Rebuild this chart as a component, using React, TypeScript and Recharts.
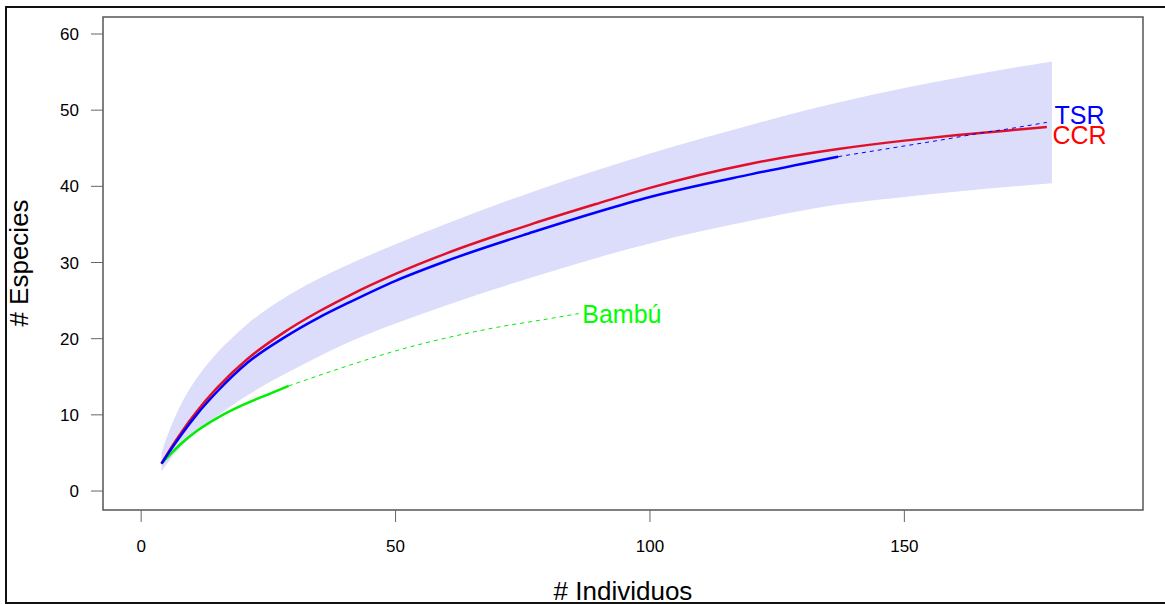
import React from "react"
import {
  ComposedChart,
  Line,
  Area,
  XAxis,
  YAxis,
  ReferenceArea,
  ReferenceDot,
} from "recharts"

// rarefaction curves
const bandX = [4, 5, 6, 8, 10, 12, 15, 18, 21, 25, 30, 35, 40, 50, 60, 77, 90, 100, 120, 137, 150, 160, 170, 179]
const bandLow = [2.6, 3.5, 4.4, 5.9, 7.2, 8.3, 9.9, 11.3, 12.6, 14.2, 16.0, 17.7, 19.3, 22.0, 24.4, 28.1, 30.7, 32.5, 35.5, 37.6, 38.6, 39.3, 39.9, 40.4]
const bandHigh = [5.0, 7.0, 8.7, 11.6, 13.9, 15.8, 18.2, 20.2, 22.0, 24.0, 26.1, 27.9, 29.5, 32.4, 35.1, 39.3, 42.2, 44.3, 48.1, 51.0, 52.9, 54.2, 55.4, 56.4]

const ccrX = [4, 6, 8, 11, 15, 21, 28, 35, 41, 50, 60, 77, 90, 100, 120, 137, 150, 160, 170, 178]
const ccrY = [3.6, 5.8, 7.8, 10.5, 13.6, 17.4, 20.8, 23.6, 25.7, 28.5, 31.2, 35.1, 37.8, 39.8, 43.0, 44.9, 46.0, 46.7, 47.3, 47.8]

const tsrX = [4, 6, 8, 11, 15, 21, 28, 35, 41, 50, 60, 77, 90, 100, 120, 137]
const tsrY = [3.6, 5.6, 7.5, 10.1, 13.1, 16.9, 20.1, 22.8, 24.8, 27.6, 30.2, 34.0, 36.7, 38.6, 41.6, 43.9]
const tsrExtX = [137, 150, 160, 165, 170, 178]
const tsrExtY = [43.9, 45.3, 46.4, 47.0, 47.5, 48.4]

const bambuX = [4, 6, 8, 11, 15, 20, 25, 29]
const bambuY = [3.6, 5.0, 6.3, 7.9, 9.6, 11.3, 12.7, 13.8]
const bambuExtX = [29, 40, 50, 60, 70, 80, 86]
const bambuExtY = [13.8, 16.3, 18.4, 20.1, 21.5, 22.6, 23.3]

const xTicks = [0, 50, 100, 150]
const yTicks = [0, 10, 20, 30, 40, 50, 60]
const xDomain = [-7.5, 196.9]
const yDomain = [-2.49, 62.23]

const curveLabels = [
  { text: "TSR", x: 179.5, y: 49.3, color: "#0000ff" },
  { text: "CCR", x: 179.1, y: 46.8, color: "#ff0000" },
  { text: "Bambú", x: 86.7, y: 23.3, color: "#00ff00" },
]

const pts = (xs: number[], ys: number[]) => xs.map((x, i) => ({ x, y: ys[i] }))
const bandData = bandX.map((x, i) => ({ x, band: [bandLow[i], bandHigh[i]] }))

const FONT = "'Liberation Sans', Arial, sans-serif"

export default function App() {
  return (
    <div style={{ position: "absolute", left: 0, top: 0, width: 1165, height: 604, background: "#fff", overflow: "hidden" }}>
      <ComposedChart width={1165} height={604} margin={{ top: 17, right: 22, left: 43, bottom: 54 }}>
        <XAxis
          dataKey="x"
          type="number"
          domain={xDomain}
          ticks={xTicks}
          allowDataOverflow
          height={40}
          axisLine={false}
          tickSize={12}
          tickMargin={18}
          tickLine={{ stroke: "#666" }}
          tick={{ fontSize: 17, fill: "#000", fontFamily: FONT }}
          label={{
            content: ({ viewBox }: any) => (
              <text x={viewBox.x + viewBox.width / 2} y={600} textAnchor="middle" fontSize={26} fontFamily={FONT} fill="#000">
                # Individuos
              </text>
            ),
          }}
        />
        <YAxis
          type="number"
          domain={yDomain}
          ticks={yTicks}
          allowDataOverflow
          width={60}
          axisLine={false}
          tickSize={12}
          tickMargin={12}
          tickLine={{ stroke: "#666" }}
          tick={{ fontSize: 17, fill: "#000", fontFamily: FONT }}
          label={{
            content: () => (
              <text x={28} y={263} transform="rotate(-90, 28, 263)" textAnchor="middle" fontSize={26} fontFamily={FONT} fill="#000">
                # Especies
              </text>
            ),
          }}
        />
        <Area
          data={bandData}
          dataKey="band"
          type="monotone"
          stroke="none"
          fill="#dcdcfb"
          fillOpacity={1}
          isAnimationActive={false}
        />
        <Line data={pts(bambuExtX, bambuExtY)} dataKey="y" type="monotone" stroke="#00ee00" strokeWidth={1} strokeDasharray="4 4" dot={false} isAnimationActive={false} />
        <Line data={pts(bambuX, bambuY)} dataKey="y" type="monotone" stroke="#00ee00" strokeWidth={2.5} dot={false} isAnimationActive={false} />
        <Line data={pts(ccrX, ccrY)} dataKey="y" type="monotone" stroke="#e0102a" strokeWidth={2.5} dot={false} isAnimationActive={false} />
        <Line data={pts(tsrX, tsrY)} dataKey="y" type="monotone" stroke="#0000ff" strokeWidth={2.5} dot={false} isAnimationActive={false} />
        <Line data={pts(tsrExtX, tsrExtY)} dataKey="y" type="monotone" stroke="#0000ff" strokeWidth={1} strokeDasharray="4 4" dot={false} isAnimationActive={false} />
        <ReferenceArea
          x1={xDomain[0]}
          x2={xDomain[1]}
          y1={yDomain[0]}
          y2={yDomain[1]}
          fill="none"
          stroke="#555"
          strokeWidth={1.5}
          ifOverflow="visible"
        />
        {curveLabels.map((l) => (
          <ReferenceDot
            key={l.text}
            x={l.x}
            y={l.y}
            r={0}
            fill="none"
            stroke="none"
            ifOverflow="visible"
            label={{
              content: ({ viewBox }: any) => (
                <text x={viewBox.x} y={viewBox.y} dy="0.36em" textAnchor="start" fontSize={25} fontFamily={FONT} fill={l.color}>
                  {l.text}
                </text>
              ),
            }}
          />
        ))}
      </ComposedChart>
      <div
        style={{
          position: "absolute",
          left: 5,
          top: 6,
          width: 1200,
          height: 594,
          border: "2px solid #111",
          pointerEvents: "none",
        }}
      />
    </div>
  )
}
